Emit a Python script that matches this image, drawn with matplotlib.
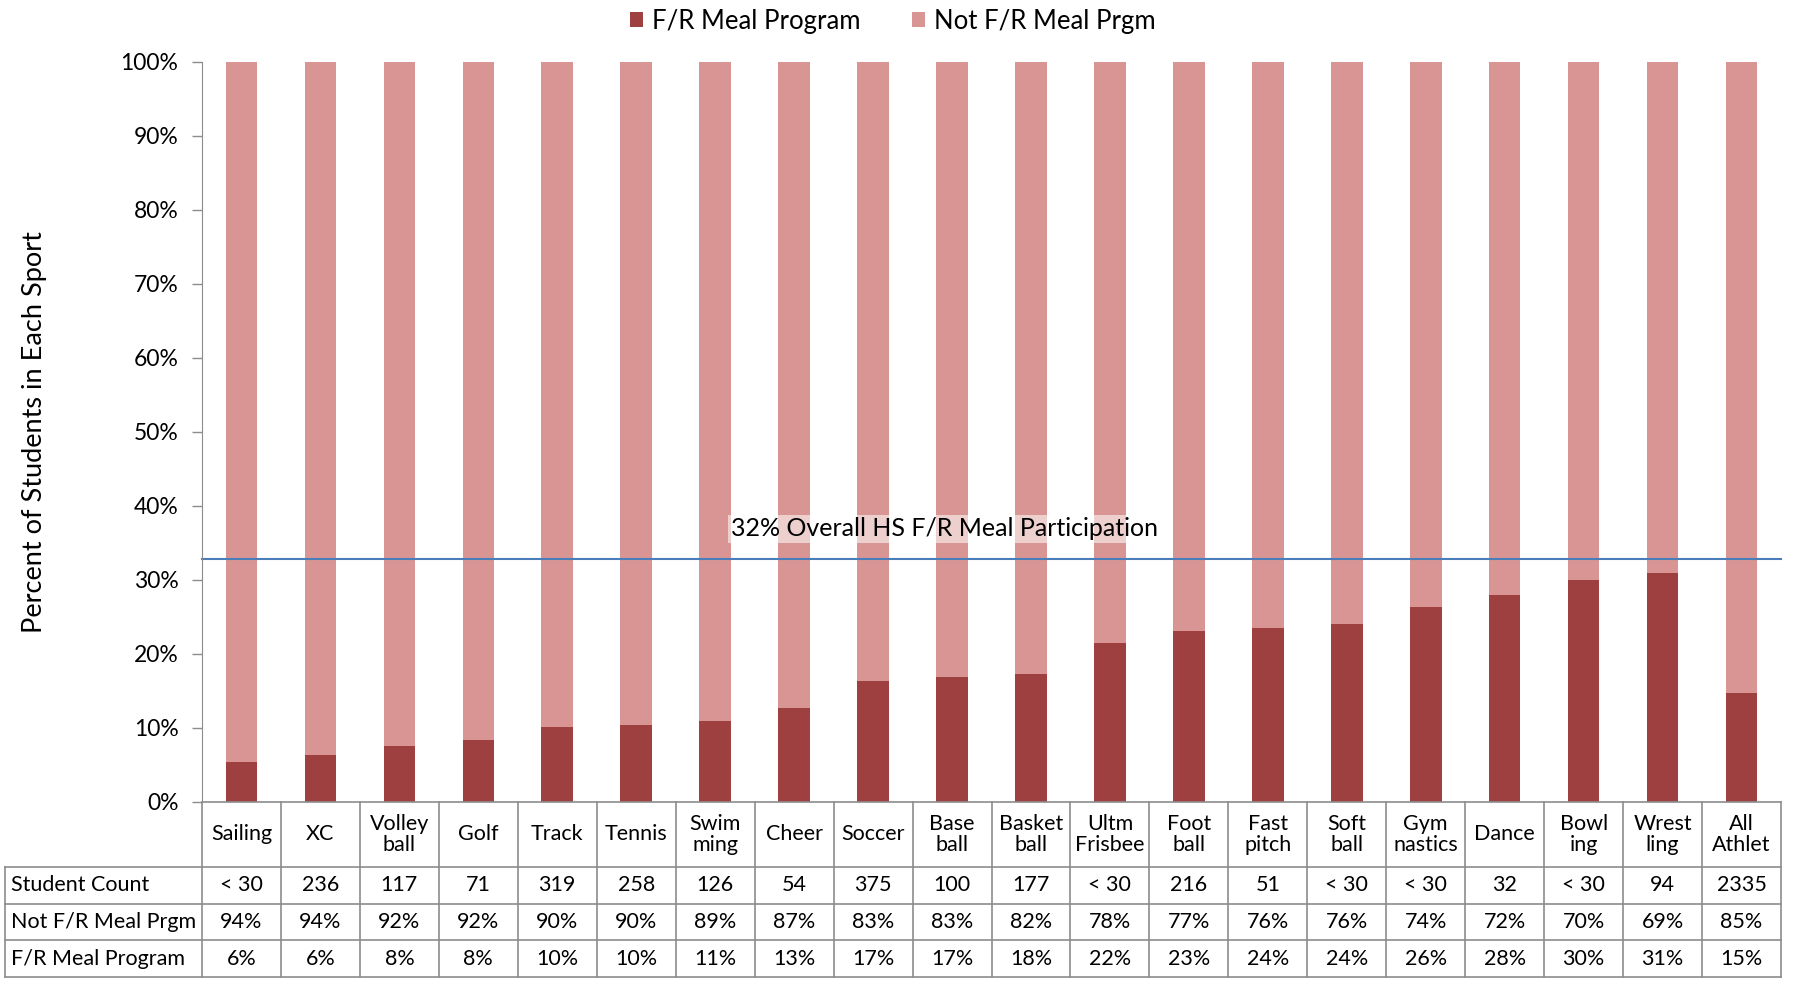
import numpy as np
import matplotlib.pyplot as plt

plt.rcParams['font.family'] = ['Lato', 'DejaVu Sans']

sports = ['Sailing', 'XC', 'Volley\nball', 'Golf', 'Track', 'Tennis', 'Swim\nming',
          'Cheer', 'Soccer', 'Base\nball', 'Basket\nball', 'Ultm\nFrisbee', 'Foot\nball',
          'Fast\npitch', 'Soft\nball', 'Gym\nnastics', 'Dance', 'Bowl\ning', 'Wrest\nling',
          'All\nAthlet']
fr_meal = [5.4, 6.3, 7.6, 8.4, 10.2, 10.4, 11.0, 12.7, 16.3, 16.9, 17.3, 21.5, 23.1,
           23.5, 24.1, 26.3, 28.0, 30.0, 31.0, 14.7]
not_fr = [100 - v for v in fr_meal]
overall = 32.8

count_txt = ['< 30', '236', '117', '71', '319', '258', '126', '54', '375', '100', '177',
             '< 30', '216', '51', '< 30', '< 30', '32', '< 30', '94', '2335']
not_fr_txt = ['94%', '94%', '92%', '92%', '90%', '90%', '89%', '87%', '83%', '83%', '82%',
              '78%', '77%', '76%', '76%', '74%', '72%', '70%', '69%', '85%']
fr_txt = ['6%', '6%', '8%', '8%', '10%', '10%', '11%', '13%', '17%', '17%', '18%', '22%',
          '23%', '24%', '24%', '26%', '28%', '30%', '31%', '15%']
row_names = ['Student Count', 'Not F/R Meal Prgm', 'F/R Meal Program']

dark = '#9E4040'
pink = '#D99594'
grid_c = '#8C8C8C'

fig = plt.figure(figsize=(17.96, 9.89), dpi=100)
ax = fig.add_axes([202/1796, 1 - 802/989, 1579/1796, 740/989])

n = len(sports)
x = np.arange(n)
ax.bar(x, fr_meal, width=0.4, color=dark, label='F/R Meal Program', linewidth=0)
ax.bar(x, not_fr, width=0.4, bottom=fr_meal, color=pink, label='Not F/R Meal Prgm', linewidth=0)
ax.axhline(overall, color='#4A7EBB', linewidth=1.5, clip_on=False)
ax.text(8.9, 36.9, '32% Overall HS F/R Meal Participation', ha='center', va='center',
        fontsize=18, bbox=dict(facecolor='white', alpha=0.55, edgecolor='none', pad=2))

ax.set_xlim(-0.5, n - 0.5)
ax.set_ylim(0, 100)
ax.set_yticks(np.arange(0, 101, 10))
ax.set_yticklabels([f'{v}%' for v in range(0, 101, 10)], fontsize=16.5)
ax.set_xticks([])
ax.tick_params(axis='y', length=7, width=1, color=grid_c, pad=10)
for s in ['top', 'right', 'bottom']:
    ax.spines[s].set_visible(False)
ax.spines['left'].set_color(grid_c)
ax.set_ylabel('Percent of Students in Each Sport', fontsize=19.5)
ax.yaxis.set_label_coords(-0.098, 0.5)

# table under the axis
tr = ax.transAxes
rows_y = [0, -0.0878, -0.1378, -0.1865, -0.2365]
left = (5 - 202) / 1579
lw = 1.2
for k in range(n + 1):
    xa = k / n
    ax.plot([xa, xa], [rows_y[0], rows_y[-1]], color=grid_c, lw=lw, transform=tr, clip_on=False)
ax.plot([0, 1], [0, 0], color=grid_c, lw=lw, transform=tr, clip_on=False)
for yv in rows_y[1:]:
    ax.plot([left, 1], [yv, yv], color=grid_c, lw=lw, transform=tr, clip_on=False)
ax.plot([left, left], [rows_y[1], rows_y[-1]], color=grid_c, lw=lw, transform=tr, clip_on=False)

for k in range(n):
    xc = (k + 0.5) / n
    ax.text(xc, (rows_y[0] + rows_y[1]) / 2, sports[k], transform=tr, ha='center',
            va='center', fontsize=15.5, linespacing=1.1)
    for r, vals in enumerate([count_txt, not_fr_txt, fr_txt]):
        ax.text(xc, (rows_y[r + 1] + rows_y[r + 2]) / 2, vals[k], transform=tr,
                ha='center', va='center', fontsize=15.5)
for r, name in enumerate(row_names):
    ax.text(left + 0.004, (rows_y[r + 1] + rows_y[r + 2]) / 2, name, transform=tr,
            ha='left', va='center', fontsize=15.5)

fig.legend(loc='center', bbox_to_anchor=(0.497, 1 - 21/989), ncol=2, frameon=False,
           fontsize=18.5, handlelength=0.5, handleheight=0.5, handletextpad=0.35,
           columnspacing=2.0)

fig.savefig('out.png', dpi=100)
